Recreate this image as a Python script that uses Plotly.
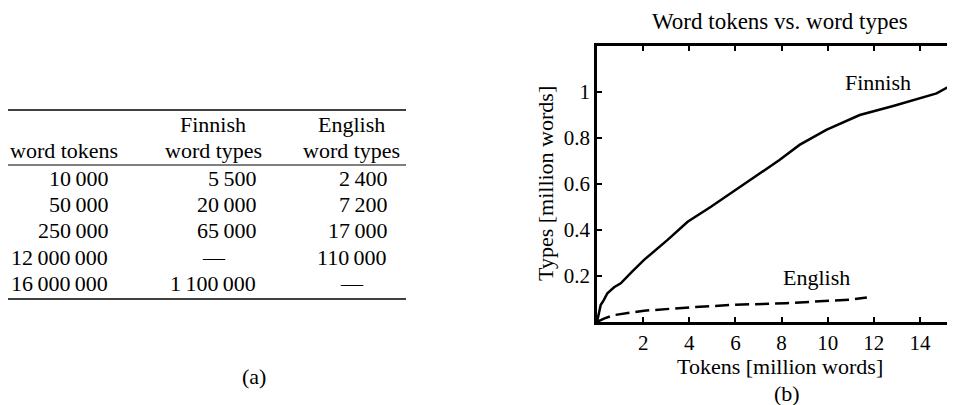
import plotly.graph_objects as go

# ---- table data (a) ----
table_tokens = [10000, 50000, 250000, 12000000, 16000000]
table_finnish = [5500, 20000, 65000, None, 1100000]
table_english = [2400, 7200, 17000, 110000, None]
table_headers = [["", "word tokens"], ["Finnish", "word types"], ["English", "word types"]]

# ---- curve data (b) ----
finnish_x = [0, 0.09, 0.16, 0.3, 0.45, 0.74, 1.03, 1.5, 2.04, 3.06, 3.93, 4.94, 5.88,
             6.75, 7.91, 8.78, 9.94, 11.39, 12.84, 14.72, 15.52, 15.6]
finnish_y = [0, 0.052, 0.074, 0.096, 0.125, 0.151, 0.168, 0.217, 0.27, 0.357, 0.436,
             0.501, 0.567, 0.625, 0.704, 0.77, 0.835, 0.9, 0.939, 0.994, 1.038, 1.045]
english_x = [0, 0.3, 0.74, 2.04, 4.07, 5.8, 8.2, 10.4, 11.0, 11.7]
english_y = [0, 0.015, 0.030, 0.049, 0.064, 0.074, 0.082, 0.092, 0.097, 0.107]

x_ticks = [2, 4, 6, 8, 10, 12, 14]
y_ticks = [0.2, 0.4, 0.6, 0.8, 1.0]
y_ticktext = ["0.2", "0.4", "0.6", "0.8", "1"]

# page body has an 8px margin: figure sized to fill the rest of the window
OFF = 8
W, H = 955 - OFF, 405 - OFF
SERIF = "Liberation Serif"


def px(x):
    return (x - OFF) / W


def py(y):
    return 1 - (y - OFF) / H


def fmt(v):
    if v is None:
        return "\u2014"
    return f"{v:,}".replace(",", "\u2009")


fig = go.Figure()
fig.add_trace(go.Scatter(x=finnish_x, y=finnish_y, mode="lines",
                         line=dict(color="black", width=2.5), name="Finnish",
                         showlegend=False))
fig.add_trace(go.Scatter(x=english_x, y=english_y, mode="lines",
                         line=dict(color="black", width=2.5, dash="14px,6px"),
                         name="English", showlegend=False))

ann = []
shapes = []

# ---- table ----
tfont = dict(family=SERIF, size=22, color="black")
for yy, w in [(110, 1.4), (165, 1.0), (299, 1.4)]:
    shapes.append(dict(type="line", xref="paper", yref="paper",
                       x0=px(8), x1=px(406), y0=py(yy), y1=py(yy),
                       line=dict(color="black", width=w)))
ann.append(dict(x=px(8), y=py(151), text=table_headers[0][1], xanchor="left", yanchor="middle", font=tfont))
for cx, hdr in [(213, table_headers[1]), (351, table_headers[2])]:
    ann.append(dict(x=px(cx), y=py(124), text=hdr[0], xanchor="center", yanchor="middle", font=tfont))
    ann.append(dict(x=px(cx), y=py(151), text=hdr[1], xanchor="center", yanchor="middle", font=tfont))
row_y = [178, 204, 230, 257, 283]
for i, ry in enumerate(row_y):
    ann.append(dict(x=px(110), y=py(ry), text=fmt(table_tokens[i]), xanchor="right", yanchor="middle", font=tfont))
    v = table_finnish[i]
    if v is None:
        ann.append(dict(x=px(214), y=py(ry), text=fmt(v), xanchor="center", yanchor="middle", font=tfont))
    else:
        ann.append(dict(x=px(258), y=py(ry), text=fmt(v), xanchor="right", yanchor="middle", font=tfont))
    v = table_english[i]
    if v is None:
        ann.append(dict(x=px(352), y=py(ry), text=fmt(v), xanchor="center", yanchor="middle", font=tfont))
    else:
        ann.append(dict(x=px(389), y=py(ry), text=fmt(v), xanchor="right", yanchor="middle", font=tfont))
ann.append(dict(x=px(254), y=py(376), text="(a)", xanchor="center", yanchor="middle", font=tfont))

# ---- chart labels ----
cfont = dict(family=SERIF, size=22, color="black")
ann.append(dict(x=px(780), y=py(22), text="Word tokens vs. word types", xanchor="center", yanchor="middle",
                font=dict(family=SERIF, size=23, color="black")))
ann.append(dict(x=px(780), y=py(366), text="Tokens [million words]", xanchor="center", yanchor="middle", font=cfont))
ann.append(dict(x=px(787), y=py(393), text="(b)", xanchor="center", yanchor="middle", font=cfont))
ann.append(dict(x=px(545), y=py(184), text="Types [million words]", textangle=-90, xanchor="center", yanchor="middle", font=cfont))
ann.append(dict(x=12.2, y=1.04, xref="x", yref="y", text="Finnish", showarrow=False, xanchor="center", yanchor="middle", font=cfont))
ann.append(dict(x=9.5, y=0.195, xref="x", yref="y", text="English", showarrow=False, xanchor="center", yanchor="middle", font=cfont))

for a in ann:
    a.setdefault("xref", "paper")
    a.setdefault("yref", "paper")
    a.setdefault("showarrow", False)

fig.update_layout(
    width=W, height=H,
    margin=dict(l=0, r=0, t=0, b=0),
    paper_bgcolor="white", plot_bgcolor="white",
    annotations=ann, shapes=shapes,
    xaxis=dict(domain=[px(597), 1.0], range=[0, 15.52], showgrid=False, zeroline=False,
               showline=True, linecolor="black", linewidth=2.5, mirror="ticks",
               ticks="inside", ticklen=5, tickwidth=2, tickcolor="black",
               tickvals=x_ticks, ticktext=[str(t) for t in x_ticks],
               tickfont=dict(family=SERIF, size=21, color="black")),
    yaxis=dict(domain=[py(322), py(46)], range=[0, 1.2], showgrid=False, zeroline=False,
               showline=True, linecolor="black", linewidth=2.5,
               ticks="inside", ticklen=5, tickwidth=2, tickcolor="black",
               tickvals=y_ticks, ticktext=y_ticktext,
               tickfont=dict(family=SERIF, size=21, color="black")),
)

fig.write_html("out.html")
